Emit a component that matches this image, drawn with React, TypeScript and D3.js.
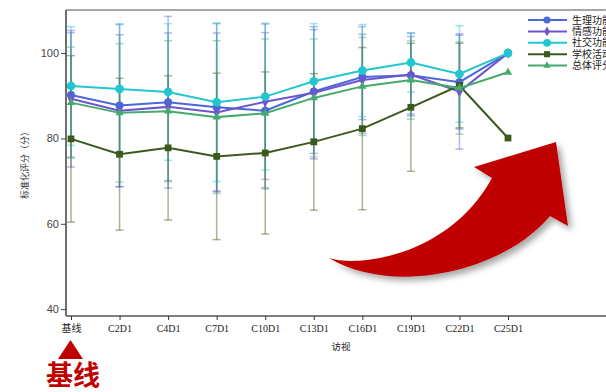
import React, { useEffect, useRef } from 'react'
import * as d3 from 'd3'

// visits on the x axis
const visits = ['基线', 'C2D1', 'C4D1', 'C7D1', 'C10D1', 'C13D1', 'C16D1', 'C19D1', 'C22D1', 'C25D1']
const yTicks = [40, 60, 80, 100]

// mean and SD per series
const physical = [90.2, 87.7, 88.5, 87.3, 86.5, 91.0, 94.4, 94.8, 93.2, 100]
const physicalSd = [14.6, 19.0, 20.1, 19.6, 18.3, 14.5, 10.0, 9.1, 11.0, 0]
const emotional = [89.3, 86.5, 87.4, 86.1, 88.6, 90.7, 93.7, 95.0, 91.0, 100]
const emotionalSd = [16.0, 17.8, 17.3, 18.6, 18.2, 15.5, 12.5, 9.7, 13.5, 0]
const social = [92.3, 91.6, 90.9, 88.5, 89.8, 93.4, 95.9, 97.8, 95.1, 100]
const socialSd = [13.9, 15.3, 16.0, 18.6, 17.2, 13.5, 10.8, 6.9, 11.3, 0]
const school = [79.9, 76.3, 77.8, 75.8, 76.6, 79.2, 82.3, 87.3, 92.4, 80.1]
const schoolSd = [19.5, 17.8, 16.9, 19.5, 19.0, 16.0, 19.0, 15.0, 9.9, 0]
const total = [88.4, 86.0, 86.4, 85.0, 85.9, 89.5, 92.2, 93.7, 91.8, 95.5]
const totalSd = [13.0, 16.2, 16.5, 17.9, 17.4, 13.8, 11.5, 9.2, 10.8, 0]

const seriesNames = ['生理功能', '情感功能', '社交功能', '学校活动', '总体评分']

const series = [
  { name: seriesNames[0], mean: physical, sd: physicalSd, color: '#4a68d8', symbol: d3.symbolCircle, size: 50 },
  { name: seriesNames[1], mean: emotional, sd: emotionalSd, color: '#6e55d0', symbol: d3.symbolDiamond, size: 34 },
  { name: seriesNames[2], mean: social, sd: socialSd, color: '#22c6cf', symbol: d3.symbolCircle, size: 60 },
  { name: seriesNames[3], mean: school, sd: schoolSd, color: '#3a5a1c', symbol: d3.symbolSquare, size: 46 },
  { name: seriesNames[4], mean: total, sd: totalSd, color: '#45aa6c', symbol: d3.symbolTriangle, size: 30 },
]

const serif = '"Liberation Serif", "Noto Sans CJK SC", serif'
const cjk = '"Noto Sans CJK SC", sans-serif'

export default function App() {
  const ref = useRef<SVGSVGElement>(null)

  useEffect(() => {
    const svg = d3.select(ref.current)
    svg.selectAll('*').remove()

    const left = 66, top = 10, bottom = 316, right = 606

    const x = d3.scalePoint<string>().domain(visits).range([71, 508])
    const y = d3.scaleLinear().domain([38.4, 110.1]).range([bottom, top])

    const defs = svg.append('defs')
    defs.append('filter').attr('id', 'shadow')
      .attr('x', '-20%').attr('y', '-20%').attr('width', '140%').attr('height', '140%')
      .append('feDropShadow')
      .attr('dx', 4).attr('dy', 4).attr('stdDeviation', 3)
      .attr('flood-color', '#000').attr('flood-opacity', 0.35)

    // frame
    svg.append('line').attr('x1', left).attr('x2', right).attr('y1', top).attr('y2', top)
      .attr('stroke', '#8a8a8a').attr('stroke-width', 1.5)

    // error bars
    const errG = svg.append('g')
    series.forEach((s) => {
      s.mean.forEach((m, i) => {
        const sd = s.sd[i]
        if (!sd) return
        const cx = x(visits[i])!
        const g = errG.append('g').attr('stroke', s.color).attr('stroke-opacity', 0.45).attr('stroke-width', 1.5)
        g.append('line').attr('x1', cx).attr('x2', cx).attr('y1', y(m + sd)).attr('y2', y(m - sd))
        g.append('line').attr('x1', cx - 4).attr('x2', cx + 4).attr('y1', y(m + sd)).attr('y2', y(m + sd))
        g.append('line').attr('x1', cx - 4).attr('x2', cx + 4).attr('y1', y(m - sd)).attr('y2', y(m - sd))
      })
    })

    // lines and markers
    const line = d3.line<number>().x((_, i) => x(visits[i])!).y((d) => y(d))
    series.forEach((s) => {
      svg.append('path').datum(s.mean).attr('d', line)
        .attr('fill', 'none').attr('stroke', s.color).attr('stroke-width', 2)
      svg.append('g').selectAll('path').data(s.mean).enter()
        .append('path')
        .attr('d', d3.symbol().type(s.symbol).size(s.size)())
        .attr('transform', (d, i) => `translate(${x(visits[i])},${y(d)})`)
        .attr('fill', s.color)
    })

    // axes
    const yAxis = svg.append('g').attr('transform', `translate(${left},0)`)
      .call(d3.axisLeft(y).tickValues(yTicks).tickSize(5).tickPadding(2))
    yAxis.select('.domain').attr('d', `M0,${top}V${bottom}`).attr('stroke', '#222').attr('stroke-width', 1.3)
    yAxis.selectAll('.tick line').attr('stroke', '#444')
    yAxis.selectAll('.tick text').attr('fill', '#444').attr('font-size', 11)
      .attr('font-family', '"Liberation Sans", Arial, sans-serif')

    const xAxis = svg.append('g').attr('transform', `translate(0,${bottom})`)
      .call(d3.axisBottom(x).tickSize(4).tickPadding(5))
    xAxis.select('.domain').attr('d', `M${left},0H${right}`).attr('stroke', '#555').attr('stroke-width', 1.3)
    xAxis.selectAll('.tick line').attr('stroke', '#333')
    xAxis.selectAll('.tick text').attr('fill', '#222').attr('font-size', 10).attr('font-family', serif)

    svg.append('text').attr('x', 341).attr('y', 350).attr('text-anchor', 'middle')
      .attr('font-size', 9.5).attr('font-family', cjk).attr('fill', '#222').text('访视')
    svg.append('text').attr('transform', 'translate(28,163) rotate(-90)').attr('text-anchor', 'middle')
      .attr('font-size', 9).attr('font-family', cjk).attr('fill', '#333').text('标准化评分（分）')

    // legend (text runs past the right edge, as in the source)
    const lg = svg.append('g')
    series.forEach((s, i) => {
      const ly = 20 + i * 11.4
      lg.append('line').attr('x1', 528).attr('x2', 567).attr('y1', ly).attr('y2', ly)
        .attr('stroke', s.color).attr('stroke-width', 2)
      lg.append('path').attr('d', d3.symbol().type(s.symbol).size(s.size * 0.8)())
        .attr('transform', `translate(547,${ly})`).attr('fill', s.color)
      lg.append('text').attr('x', 572).attr('y', ly + 3.5).attr('font-size', 10)
        .attr('font-family', cjk).attr('fill', '#222').text(s.name)
    })

    // annotations
    svg.append('path')
      .attr('d', 'M329,258 C360,268 450,255 492,178 L474,167 L556,142 L568,226 L550,216 C500,275 390,295 329,258 Z')
      .attr('fill', '#c00000').attr('filter', 'url(#shadow)')
    svg.append('path').attr('d', 'M58,359 L83,359 L70.5,340 Z').attr('fill', '#c00000')
    svg.append('text').attr('x', 73).attr('y', 385).attr('text-anchor', 'middle')
      .attr('font-size', 27).attr('font-weight', 'bold').attr('font-family', cjk)
      .attr('fill', '#c00000').text('基线')
  }, [])

  return (
    <svg ref={ref} width={606} height={392}
      style={{ position: 'absolute', left: 0, top: 0, background: '#fff' }} />
  )
}
